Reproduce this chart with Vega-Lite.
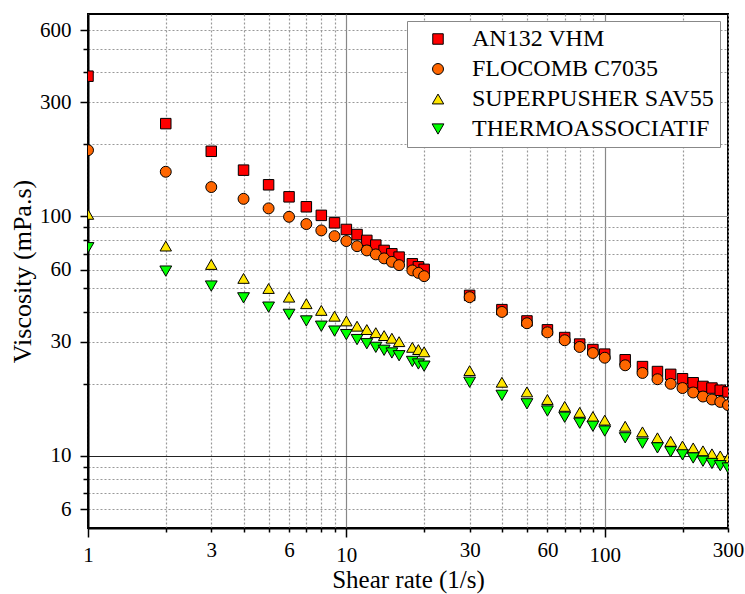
{
  "$schema": "https://vega.github.io/schema/vega-lite/v6.json",
  "width": 640,
  "height": 514,
  "autosize": {"type": "none"},
  "padding": {"left": 88, "top": 14, "right": 17, "bottom": 66},
  "background": "white",
  "config": {
    "font": "Times New Roman",
    "text": {"font": "Times New Roman"},
    "title": {"font": "Times New Roman"},
    "view": {"stroke": "#000", "strokeWidth": 2},
    "axis": {
      "domainColor": "#000",
      "domainWidth": 2,
      "tickColor": "#000",
      "tickWidth": 1.5,
      "labelColor": "#000",
      "labelFontSize": 21,
      "labelFont": "Times New Roman",
      "titleFont": "Times New Roman",
      "titleFontSize": 26,
      "titleFontWeight": "normal",
      "titleColor": "#000",
      "labelFlush": false,
      "labelOverlap": false,
      "gridWidth": 1.2
    },
    "legend": {"labelLimit": 400, "labelFont": "Times New Roman"}
  },
  "data": {"values": [
    {"s":"AN132 VHM","x":1,"y":385},{"s":"AN132 VHM","x":2,"y":244},{"s":"AN132 VHM","x":3,"y":187},{"s":"AN132 VHM","x":4,"y":156},{"s":"AN132 VHM","x":5,"y":135.5},{"s":"AN132 VHM","x":6,"y":120.7},{"s":"AN132 VHM","x":7,"y":109.7},{"s":"AN132 VHM","x":8,"y":101},{"s":"AN132 VHM","x":9,"y":94},{"s":"AN132 VHM","x":10,"y":88.2},{"s":"AN132 VHM","x":11,"y":84},{"s":"AN132 VHM","x":12,"y":79.4},{"s":"AN132 VHM","x":13,"y":75.9},{"s":"AN132 VHM","x":14,"y":72.1},{"s":"AN132 VHM","x":15,"y":69.8},{"s":"AN132 VHM","x":16,"y":67.6},{"s":"AN132 VHM","x":18,"y":63.4},{"s":"AN132 VHM","x":19,"y":61.6},{"s":"AN132 VHM","x":20,"y":60.1},{"s":"AN132 VHM","x":30,"y":46.8},{"s":"AN132 VHM","x":40,"y":40.8},{"s":"AN132 VHM","x":50,"y":36.6},{"s":"AN132 VHM","x":60,"y":33.6},{"s":"AN132 VHM","x":70,"y":31.2},{"s":"AN132 VHM","x":80,"y":29.3},{"s":"AN132 VHM","x":90,"y":27.8},{"s":"AN132 VHM","x":100,"y":26.6},{"s":"AN132 VHM","x":120,"y":25.2},{"s":"AN132 VHM","x":140,"y":23.6},{"s":"AN132 VHM","x":160,"y":22.5},{"s":"AN132 VHM","x":180,"y":21.9},{"s":"AN132 VHM","x":200,"y":21.0},{"s":"AN132 VHM","x":220,"y":20.2},{"s":"AN132 VHM","x":240,"y":19.5},{"s":"AN132 VHM","x":260,"y":19.2},{"s":"AN132 VHM","x":280,"y":18.8},{"s":"AN132 VHM","x":300,"y":18.5},
    {"s":"FLOCOMB C7035","x":1,"y":189},{"s":"FLOCOMB C7035","x":2,"y":153.6},{"s":"FLOCOMB C7035","x":3,"y":132.6},{"s":"FLOCOMB C7035","x":4,"y":118.4},{"s":"FLOCOMB C7035","x":5,"y":108},{"s":"FLOCOMB C7035","x":6,"y":99.6},{"s":"FLOCOMB C7035","x":7,"y":92.9},{"s":"FLOCOMB C7035","x":8,"y":87.4},{"s":"FLOCOMB C7035","x":9,"y":82.7},{"s":"FLOCOMB C7035","x":10,"y":78.9},{"s":"FLOCOMB C7035","x":11,"y":75.1},{"s":"FLOCOMB C7035","x":12,"y":72.1},{"s":"FLOCOMB C7035","x":13,"y":69.4},{"s":"FLOCOMB C7035","x":14,"y":66.8},{"s":"FLOCOMB C7035","x":15,"y":64.6},{"s":"FLOCOMB C7035","x":16,"y":62.6},{"s":"FLOCOMB C7035","x":18,"y":59.5},{"s":"FLOCOMB C7035","x":19,"y":58.1},{"s":"FLOCOMB C7035","x":20,"y":56.3},{"s":"FLOCOMB C7035","x":30,"y":46.0},{"s":"FLOCOMB C7035","x":40,"y":39.9},{"s":"FLOCOMB C7035","x":50,"y":35.8},{"s":"FLOCOMB C7035","x":60,"y":32.8},{"s":"FLOCOMB C7035","x":70,"y":30.4},{"s":"FLOCOMB C7035","x":80,"y":28.5},{"s":"FLOCOMB C7035","x":90,"y":26.9},{"s":"FLOCOMB C7035","x":100,"y":25.7},{"s":"FLOCOMB C7035","x":120,"y":23.9},{"s":"FLOCOMB C7035","x":140,"y":22.2},{"s":"FLOCOMB C7035","x":160,"y":20.9},{"s":"FLOCOMB C7035","x":180,"y":20.0},{"s":"FLOCOMB C7035","x":200,"y":19.2},{"s":"FLOCOMB C7035","x":220,"y":18.4},{"s":"FLOCOMB C7035","x":240,"y":17.7},{"s":"FLOCOMB C7035","x":260,"y":17.2},{"s":"FLOCOMB C7035","x":280,"y":16.8},{"s":"FLOCOMB C7035","x":300,"y":16.3},
    {"s":"SUPERPUSHER SAV55","x":1,"y":102},{"s":"SUPERPUSHER SAV55","x":2,"y":75.2},{"s":"SUPERPUSHER SAV55","x":3,"y":63.0},{"s":"SUPERPUSHER SAV55","x":4,"y":55.1},{"s":"SUPERPUSHER SAV55","x":5,"y":50.0},{"s":"SUPERPUSHER SAV55","x":6,"y":46.0},{"s":"SUPERPUSHER SAV55","x":7,"y":43.2},{"s":"SUPERPUSHER SAV55","x":8,"y":40.5},{"s":"SUPERPUSHER SAV55","x":9,"y":38.3},{"s":"SUPERPUSHER SAV55","x":10,"y":36.6},{"s":"SUPERPUSHER SAV55","x":11,"y":34.8},{"s":"SUPERPUSHER SAV55","x":12,"y":33.7},{"s":"SUPERPUSHER SAV55","x":13,"y":32.7},{"s":"SUPERPUSHER SAV55","x":14,"y":31.8},{"s":"SUPERPUSHER SAV55","x":15,"y":31.0},{"s":"SUPERPUSHER SAV55","x":16,"y":30.0},{"s":"SUPERPUSHER SAV55","x":18,"y":28.4},{"s":"SUPERPUSHER SAV55","x":19,"y":27.8},{"s":"SUPERPUSHER SAV55","x":20,"y":27.2},{"s":"SUPERPUSHER SAV55","x":30,"y":22.7},{"s":"SUPERPUSHER SAV55","x":40,"y":20.3},{"s":"SUPERPUSHER SAV55","x":50,"y":18.5},{"s":"SUPERPUSHER SAV55","x":60,"y":17.2},{"s":"SUPERPUSHER SAV55","x":70,"y":16.1},{"s":"SUPERPUSHER SAV55","x":80,"y":15.2},{"s":"SUPERPUSHER SAV55","x":90,"y":14.6},{"s":"SUPERPUSHER SAV55","x":100,"y":14.1},{"s":"SUPERPUSHER SAV55","x":120,"y":13.3},{"s":"SUPERPUSHER SAV55","x":140,"y":12.6},{"s":"SUPERPUSHER SAV55","x":160,"y":11.9},{"s":"SUPERPUSHER SAV55","x":180,"y":11.5},{"s":"SUPERPUSHER SAV55","x":200,"y":11.0},{"s":"SUPERPUSHER SAV55","x":220,"y":10.8},{"s":"SUPERPUSHER SAV55","x":240,"y":10.5},{"s":"SUPERPUSHER SAV55","x":260,"y":10.2},{"s":"SUPERPUSHER SAV55","x":280,"y":10.0},{"s":"SUPERPUSHER SAV55","x":300,"y":9.8},
    {"s":"THERMOASSOCIATIF","x":1,"y":74},{"s":"THERMOASSOCIATIF","x":2,"y":59.1},{"s":"THERMOASSOCIATIF","x":3,"y":51.2},{"s":"THERMOASSOCIATIF","x":4,"y":45.7},{"s":"THERMOASSOCIATIF","x":5,"y":41.8},{"s":"THERMOASSOCIATIF","x":6,"y":39.0},{"s":"THERMOASSOCIATIF","x":7,"y":36.6},{"s":"THERMOASSOCIATIF","x":8,"y":34.8},{"s":"THERMOASSOCIATIF","x":9,"y":33.2},{"s":"THERMOASSOCIATIF","x":10,"y":32.1},{"s":"THERMOASSOCIATIF","x":11,"y":30.6},{"s":"THERMOASSOCIATIF","x":12,"y":29.4},{"s":"THERMOASSOCIATIF","x":13,"y":28.4},{"s":"THERMOASSOCIATIF","x":14,"y":27.6},{"s":"THERMOASSOCIATIF","x":15,"y":26.9},{"s":"THERMOASSOCIATIF","x":16,"y":26.2},{"s":"THERMOASSOCIATIF","x":18,"y":24.8},{"s":"THERMOASSOCIATIF","x":19,"y":24.2},{"s":"THERMOASSOCIATIF","x":20,"y":23.7},{"s":"THERMOASSOCIATIF","x":30,"y":20.3},{"s":"THERMOASSOCIATIF","x":40,"y":17.9},{"s":"THERMOASSOCIATIF","x":50,"y":16.5},{"s":"THERMOASSOCIATIF","x":60,"y":15.4},{"s":"THERMOASSOCIATIF","x":70,"y":14.5},{"s":"THERMOASSOCIATIF","x":80,"y":13.7},{"s":"THERMOASSOCIATIF","x":90,"y":13.3},{"s":"THERMOASSOCIATIF","x":100,"y":12.7},{"s":"THERMOASSOCIATIF","x":120,"y":11.9},{"s":"THERMOASSOCIATIF","x":140,"y":11.3},{"s":"THERMOASSOCIATIF","x":160,"y":10.8},{"s":"THERMOASSOCIATIF","x":180,"y":10.4},{"s":"THERMOASSOCIATIF","x":200,"y":10.1},{"s":"THERMOASSOCIATIF","x":220,"y":9.8},{"s":"THERMOASSOCIATIF","x":240,"y":9.5},{"s":"THERMOASSOCIATIF","x":260,"y":9.3},{"s":"THERMOASSOCIATIF","x":280,"y":9.1},{"s":"THERMOASSOCIATIF","x":300,"y":8.9}
  ]},
  "mark": {"type": "point", "filled": true, "opacity": 1, "stroke": "#000", "strokeWidth": 1, "clip": true},
  "encoding": {
    "x": {
      "field": "x", "type": "quantitative",
      "scale": {"type": "log", "domain": [1, 300], "nice": false},
      "axis": {
        "title": "Shear rate (1/s)",
        "titleFontSize": 25,
        "values": [1,2,3,4,5,6,7,8,9,10,20,30,40,50,60,70,80,90,100,200,300],
        "labelExpr": "indexof([1,3,6,10,30,60,100,300], datum.value) >= 0 ? '' + datum.value : ''",
        "tickSize": {"condition": {"test": "datum.value == 10 || datum.value == 100 || datum.value == 1", "value": 9}, "value": 4},
        "labelPadding": 7,
        "titlePadding": 2,
        "grid": true,
        "gridColor": {"condition": {"test": "datum.value == 10 || datum.value == 100", "value": "#888"}, "value": "#999"},
        "gridDash": {"condition": {"test": "datum.value == 10 || datum.value == 100", "value": []}, "value": [2, 2]}
      }
    },
    "y": {
      "field": "y", "type": "quantitative",
      "scale": {"type": "log", "domain": [5, 700], "nice": false},
      "axis": {
        "title": "Viscosity (mPa.s)",
        "values": [6,7,8,9,10,20,30,40,50,60,70,80,90,100,200,300,400,500,600],
        "labelExpr": "indexof([6,10,30,60,100,300,600], datum.value) >= 0 ? '' + datum.value : ''",
        "tickSize": {"condition": {"test": "indexof([6,10,30,60,100,300,600], datum.value) >= 0", "value": 8}, "value": 5},
        "labelPadding": 9,
        "titlePadding": 4,
        "grid": true,
        "gridColor": {"condition": {"test": "datum.value == 10", "value": "#222"}, "value": "#999"},
        "gridDash": {"condition": {"test": "datum.value == 10 || datum.value == 100", "value": []}, "value": [2, 2]}
      }
    },
    "color": {
      "field": "s", "type": "nominal",
      "scale": {"domain": ["AN132 VHM", "FLOCOMB C7035", "SUPERPUSHER SAV55", "THERMOASSOCIATIF"], "range": ["#FF0000", "#FF6600", "#FFE600", "#00FF00"]},
      "legend": {
        "title": null, "orient": "none", "legendX": 319, "legendY": 7,
        "padding": 6, "fillColor": "white", "strokeColor": "#888",
        "labelFontSize": 24, "labelFont": "Times New Roman", "labelColor": "#000", "labelLimit": 400,
        "symbolStrokeColor": "#000", "symbolStrokeWidth": 1, "symbolOpacity": 1,
        "rowPadding": 6, "symbolOffset": 13, "labelOffset": 22
      }
    },
    "shape": {
      "field": "s", "type": "nominal",
      "scale": {"domain": ["AN132 VHM", "FLOCOMB C7035", "SUPERPUSHER SAV55", "THERMOASSOCIATIF"], "range": ["square", "circle", "triangle-up", "triangle-down"]}
    },
    "size": {
      "field": "s", "type": "nominal",
      "scale": {"domain": ["AN132 VHM", "FLOCOMB C7035", "SUPERPUSHER SAV55", "THERMOASSOCIATIF"], "range": [110, 140, 210, 210]}
    }
  }
}
